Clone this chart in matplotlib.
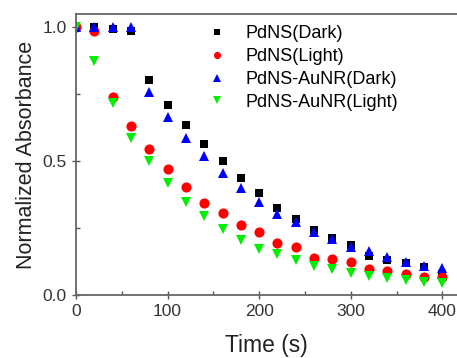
import matplotlib.pyplot as plt
from matplotlib.ticker import MultipleLocator

plt.rcParams["font.family"] = ["Liberation Sans", "DejaVu Sans"]

time_s = [0, 20, 40, 60, 80, 100, 120, 140, 160, 180, 200,
          220, 240, 260, 280, 300, 320, 340, 360, 380, 400]

pdns_dark = [1.0, 1.0, 0.995, 0.985, 0.802, 0.709, 0.634, 0.563, 0.50, 0.437, 0.38,
             0.325, 0.283, 0.243, 0.213, 0.187, 0.146, 0.131, 0.119, 0.105, 0.078]
pdns_light = [1.0, 0.986, 0.74, 0.63, 0.545, 0.47, 0.403, 0.343, 0.306, 0.263, 0.236,
              0.194, 0.18, 0.139, 0.134, 0.123, 0.097, 0.09, 0.078, 0.068, 0.067]
auNR_dark = [1.0, 1.0, 1.0, 1.0, 0.759, 0.665, 0.585, 0.519, 0.456, 0.40, 0.347,
             0.302, 0.273, 0.236, 0.209, 0.18, 0.164, 0.143, 0.124, 0.108, 0.102]
auNR_light = [1.0, 0.873, 0.716, 0.585, 0.50, 0.418, 0.347, 0.295, 0.246, 0.205, 0.17,
              0.153, 0.13, 0.108, 0.097, 0.083, 0.071, 0.063, 0.056, 0.05, 0.045]

series = [
    ("PdNS(Dark)", pdns_dark, "s", "black", 6.3),
    ("PdNS(Light)", pdns_light, "o", "red", 7.3),
    ("PdNS-AuNR(Dark)", auNR_dark, "^", "blue", 7.5),
    ("PdNS-AuNR(Light)", auNR_light, "v", "#00ee00", 7.5),
]

fig = plt.figure(figsize=(4.57, 3.58), dpi=100)
ax = fig.add_axes([0.1663, 0.176, 0.8337, 0.785])

for label, values, marker, color, size in series:
    ax.plot(time_s, values, linestyle="none", marker=marker, color=color,
            markersize=size, markeredgewidth=0, label=label)

ax.set_xlim(0, 416)
ax.set_ylim(0, 1.05)
ax.xaxis.set_major_locator(MultipleLocator(100))
ax.xaxis.set_minor_locator(MultipleLocator(50))
ax.yaxis.set_major_locator(MultipleLocator(0.5))
ax.yaxis.set_minor_locator(MultipleLocator(0.25))
ax.tick_params(which="major", direction="inout", length=6, width=1,
               labelsize=12.5, color="#555555", labelcolor="#333333")
ax.tick_params(which="minor", direction="in", length=3, width=1, color="#555555")
ax.tick_params(top=False, right=False)

for side in ("left", "bottom", "top"):
    ax.spines[side].set_color("#666666")
    ax.spines[side].set_linewidth(1.3)
ax.spines["right"].set_visible(False)

ax.set_xlabel("Time (s)", fontsize=16.5, color="#222222", labelpad=11)
ax.set_ylabel("Normalized Absorbance", fontsize=15.5, color="#222222", labelpad=4)

ax.legend(loc="upper left", bbox_to_anchor=(0.328, 0.985), frameon=False,
          fontsize=13, markerscale=0.7, handlelength=1.0, handletextpad=1.05,
          labelspacing=0.32, borderaxespad=0.0)

fig.savefig("out.png", dpi=100)
